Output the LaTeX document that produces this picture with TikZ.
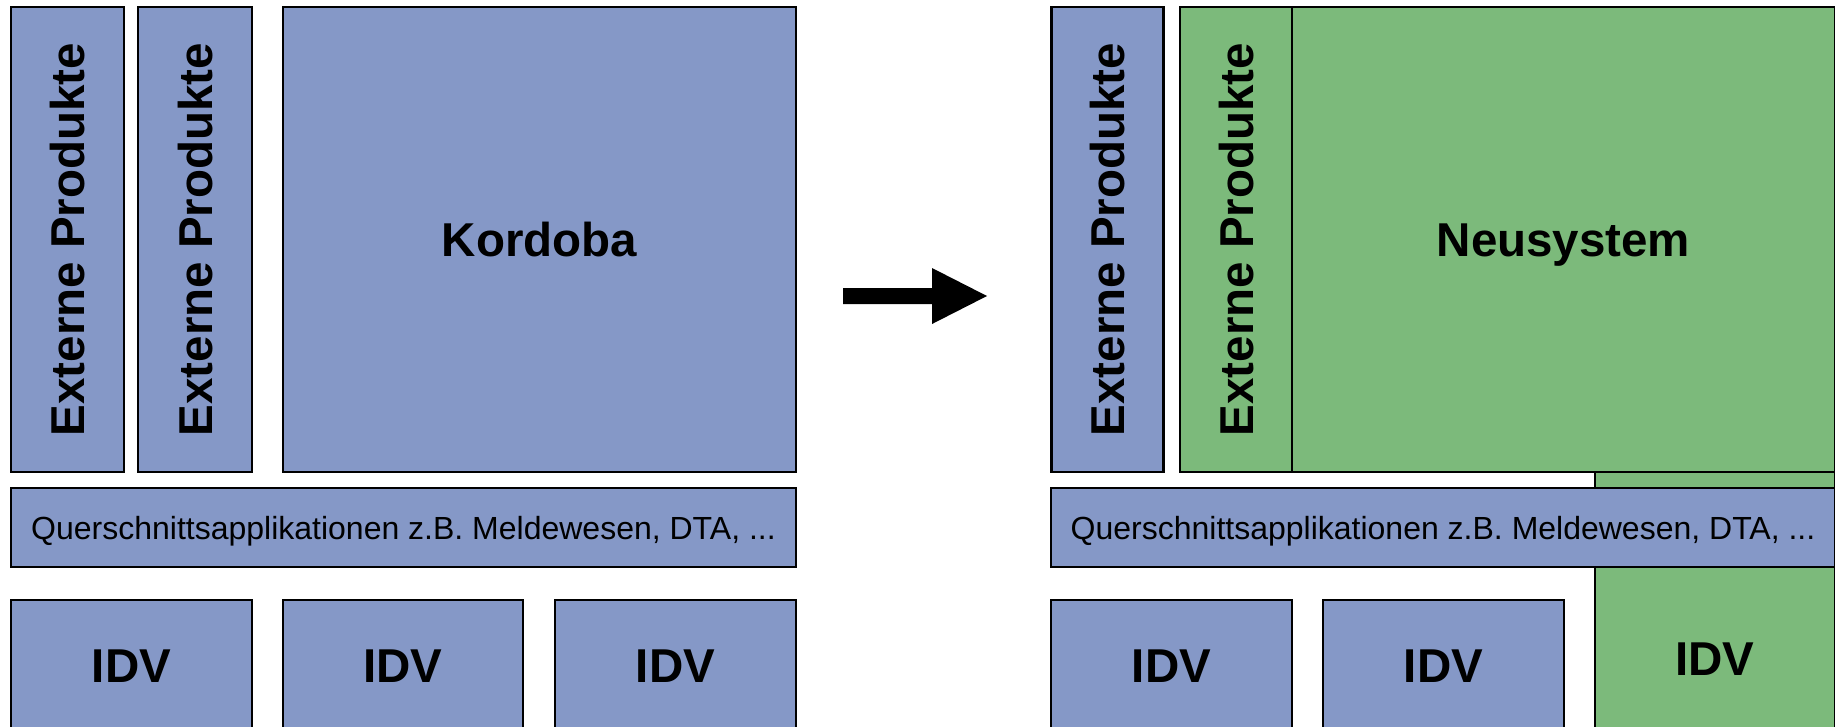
\documentclass[tikz,border=0pt]{standalone}
\usepackage{fontspec}
\setmainfont{Liberation Sans}
\definecolor{boxblue}{HTML}{8598C7}
\definecolor{boxgreen}{HTML}{7CBA7B}
\begin{document}
\begin{tikzpicture}[x=1pt,y=-1pt,
  box/.style={draw=black, line width=2.5pt, inner sep=0pt, outer sep=0pt, anchor=center},
  bluebox/.style={box, fill=boxblue},
  greenbox/.style={box, fill=boxgreen},
  big/.style={font=\fontsize{47.5}{57}\selectfont\bfseries, text height=34pt, text depth=0pt},
  small/.style={font=\fontsize{32}{38}\selectfont, text height=23pt, text depth=0pt}]
\useasboundingbox (0,0) rectangle (1835,726);
% left: current state
\node[bluebox, big, rotate=90, minimum width=465, minimum height=113] (ep1) at (67.5,239.5) {Externe Produkte};
\node[bluebox, big, rotate=90, minimum width=465, minimum height=114] (ep2) at (195,239.5) {Externe Produkte};
\node[bluebox, big, minimum width=513, minimum height=465] (kord) at (539.5,239.5) {Kordoba};
\node[bluebox, small, minimum width=785, minimum height=79] (q) at (403.5,527.5) {Querschnittsapplikationen z.B. Meldewesen, DTA, ...};
\node[bluebox, big, minimum width=241, minimum height=130] (idv1) at (131.5,665) {IDV};
\node[bluebox, big, minimum width=240, minimum height=130] (idv2) at (403,665) {IDV};
\node[bluebox, big, minimum width=241, minimum height=130] (idv3) at (675.5,665) {IDV};
% arrow
\fill[black] (843,288) -- (932,288) -- (932,268) -- (987,296) -- (932,324) -- (932,304) -- (843,304) -- cycle;
% right: target state
\node[greenbox, big, minimum width=240, minimum height=372] (gidv) at (1715,658) {IDV};
\node[greenbox, big, minimum width=543, minimum height=465] (neu) at (1563.5,239.5) {Neusystem};
\node[bluebox, big, rotate=90, minimum width=465, minimum height=112] (rep1) at (1107.5,239.5) {Externe Produkte};
\node[greenbox, big, rotate=90, minimum width=465, minimum height=112] (rep2) at (1236,239.5) {Externe Produkte};
\node[bluebox, small, minimum width=784, minimum height=79] (rq) at (1443,527.5) {Querschnittsapplikationen z.B. Meldewesen, DTA, ...};
\node[bluebox, big, minimum width=241, minimum height=130] (ridv1) at (1171.5,665) {IDV};
\node[bluebox, big, minimum width=241, minimum height=130] (ridv2) at (1443.5,665) {IDV};
\end{tikzpicture}
\end{document}
